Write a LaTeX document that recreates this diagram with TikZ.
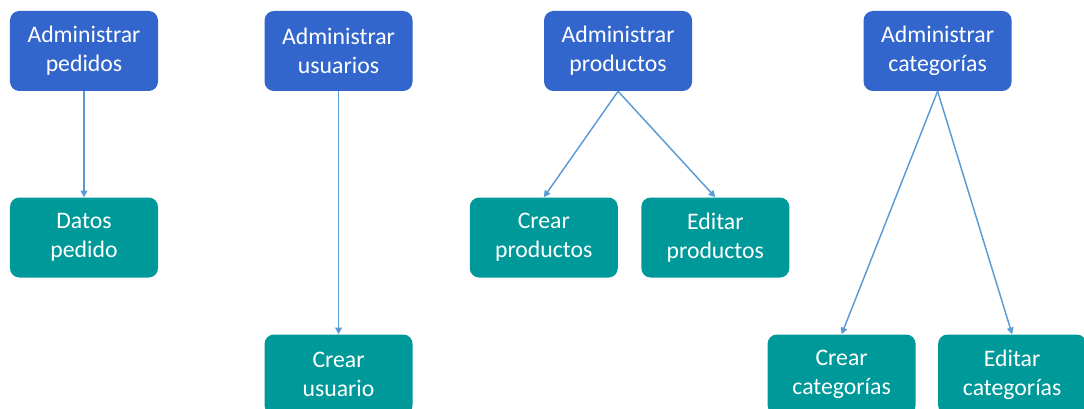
\documentclass[tikz,border=0pt]{standalone}
\usepackage{fontspec}
\setmainfont{Carlito}
\usepackage{tikz}
\usetikzlibrary{arrows.meta,positioning,calc}
\usepackage{xcolor}
\definecolor{boxblue}{HTML}{3366CC}
\definecolor{boxteal}{HTML}{009999}
\definecolor{lineblue}{HTML}{5B9BD5}

\begin{document}
\begin{tikzpicture}[
  node distance=79.5pt and 79.5pt,
  every node/.style={rounded corners=7pt, minimum width=111pt, minimum height=60pt, align=center, text=white, font=\fontsize{17.8}{21.5}\selectfont},
  admin/.style={fill=boxblue},
  task/.style={fill=boxteal},
  arr/.style={-{Triangle[length=5pt,width=5pt]}, line width=1.1pt, draw=lineblue},
]
  % Frame (first node sits at the origin)
  \useasboundingbox[clip] (-63pt,38.25pt) rectangle ++(813pt,-306.75pt);

  % Top row
  \node[admin] (hped) {Administrar\\pedidos};
  \node[admin, right=79.5pt of hped] (husr) {Administrar\\usuarios};
  \node[admin, right=98.25pt of husr] (hprod) {Administrar\\productos};
  \node[admin, right=128.25pt of hprod] (hcat) {Administrar\\categorías};

  % Second row
  \node[task, below=79.5pt of hped] (dped) {Datos\\pedido};
  \node[task, below=79.5pt of hprod.south west] (cprod) {Crear\\productos};
  \node[task, right=17.25pt of cprod] (eprod) {Editar\\productos};

  % Third row
  \node[task, below=182.25pt of husr] (cusr) {Crear\\usuario};
  \node[task, below=182.25pt of hcat.south, xshift=-72pt] (ccat) {Crear\\categorías};
  \node[task, right=16.5pt of ccat] (ecat) {Editar\\categorías};

  \draw[arr] (hped) -- (dped);
  \draw[arr] (husr) -- (cusr);
  \draw[arr] (hprod.south) -- (cprod.north);
  \draw[arr] (hprod.south) -- (eprod.north);
  \draw[arr] (hcat.south) -- (ccat.north);
  \draw[arr] (hcat.south) -- (ecat.north);
\end{tikzpicture}
\end{document}
